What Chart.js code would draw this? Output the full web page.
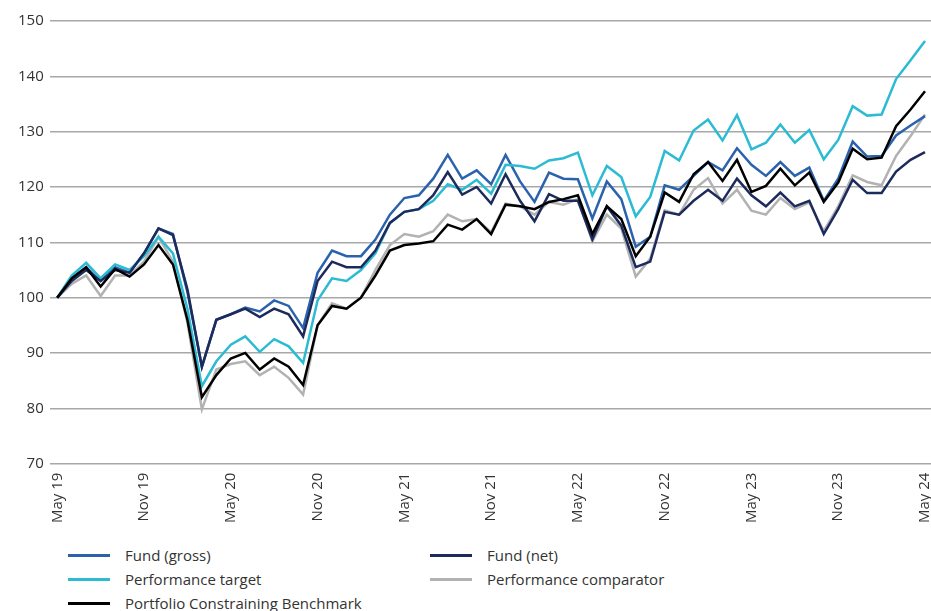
<!DOCTYPE html>
<html>
<head>
<meta charset="utf-8">
<script src="https://cdn.jsdelivr.net/npm/chart.js@4.4.1/dist/chart.umd.min.js"></script>
<style>
  html, body { margin: 0; padding: 0; background: #fff; }
  #wrap { position: relative; width: 931px; height: 611px; overflow: hidden; font-family: 'Open Sans', sans-serif; color: #333; }
  #box { position: absolute; left: 0; top: 0; width: 952px; height: 545px; }
  .item { position: absolute; font-size: 15px; line-height: 20px; white-space: nowrap; }
  .item i { position: absolute; left: -57px; top: 9px; width: 42px; height: 3px; }
</style>
</head>
<body>
<div id="wrap">
  <div id="box"><canvas id="perfChart"></canvas></div>
  <div id="legend"></div>
</div>
<script>
// monthly, May 2019 - May 2024 (rebased to 100)
const months = [
  'May 19','Jun 19','Jul 19','Aug 19','Sep 19','Oct 19','Nov 19','Dec 19',
  'Jan 20','Feb 20','Mar 20','Apr 20','May 20','Jun 20','Jul 20','Aug 20','Sep 20','Oct 20','Nov 20','Dec 20',
  'Jan 21','Feb 21','Mar 21','Apr 21','May 21','Jun 21','Jul 21','Aug 21','Sep 21','Oct 21','Nov 21','Dec 21',
  'Jan 22','Feb 22','Mar 22','Apr 22','May 22','Jun 22','Jul 22','Aug 22','Sep 22','Oct 22','Nov 22','Dec 22',
  'Jan 23','Feb 23','Mar 23','Apr 23','May 23','Jun 23','Jul 23','Aug 23','Sep 23','Oct 23','Nov 23','Dec 23',
  'Jan 24','Feb 24','Mar 24','Apr 24','May 24'
];
const tickLabels = ['May 19','Nov 19','May 20','Nov 20','May 21','Nov 21','May 22','Nov 22','May 23','Nov 23','May 24'];
const yTicks = [70, 80, 90, 100, 110, 120, 130, 140, 150];

const fundGross = [
  100, 103.5, 105.5, 103, 105.5, 104.5, 108, 112.5, 111.5, 101, 87.5, 96, 97, 98.2, 97.5, 99.5, 98.5, 94.5,
  104.5, 108.5, 107.5, 107.5, 110.5, 115, 118, 118.5, 121.5, 125.8, 121.5, 123, 120.5, 125.8, 121, 117.3,
  122.6, 121.5, 121.4, 114.3, 121, 117.8, 109.2, 111, 120.3, 119.5, 122, 124.5, 123, 127, 124, 122, 124.5,
  122, 123.5, 117.5, 121.5, 128.2, 125.5, 125.6, 129.3, 131.1, 132.8
];
const fundNet = [
  100, 103, 105, 103, 105, 104.5, 108, 112.5, 111.3, 101.5, 87.5, 96, 97, 98, 96.5, 98, 97, 93,
  103, 106.5, 105.5, 105.5, 108.5, 113.5, 115.5, 116, 118.5, 122.7, 118.6, 120, 117, 122.3, 117.5, 113.8,
  118.7, 117.5, 117.5, 110.5, 116.5, 113, 105.5, 106.5, 115.5, 115, 117.5, 119.5, 117.5, 121.5, 118.5,
  116.5, 119, 116.5, 117.5, 111.5, 116, 121.3, 118.9, 118.9, 122.8, 124.9, 126.3
];
const perfTarget = [
  100, 104, 106.3, 103.5, 106, 105, 107.5, 111, 108, 98, 84, 88.5, 91.5, 93, 90.2, 92.5, 91.2, 88.2,
  99.5, 103.5, 103, 105, 108, 113.5, 115.5, 116, 117.5, 120.5, 119.5, 121.3, 118.8, 124, 123.8, 123.3,
  124.8, 125.2, 126.2, 118.5, 123.8, 121.8, 114.7, 118.2, 126.5, 124.8, 130.2, 132.2, 128.4, 133, 126.8,
  128, 131.3, 128, 130.3, 125, 128.5, 134.6, 132.9, 133.1, 139.5, 142.9, 146.4
];
const perfComparator = [
  100, 102.5, 104, 100.3, 104, 104, 106.5, 111, 106.5, 95.5, 79.8, 87, 88, 88.5, 86, 87.5, 85.5, 82.5,
  95, 99, 98, 100, 105, 109.5, 111.5, 111, 112, 115, 113.8, 114.2, 111.8, 117, 116.5, 115, 117.3, 116.8,
  117.8, 110.2, 115, 112.5, 103.8, 107, 115.8, 115, 119.5, 121.6, 117, 119.5, 115.7, 115, 118, 116, 117.2,
  112, 116.5, 122.1, 120.9, 120.3, 125.6, 129.2, 133.1
];
const constrainingBm = [
  100, 103.5, 105.5, 102, 105.2, 103.8, 106, 109.5, 106, 96, 82, 86, 89, 90, 87, 89, 87.5, 84.2,
  95, 98.5, 98, 100, 104, 108.5, 109.5, 109.8, 110.2, 113.2, 112.3, 114.2, 111.5, 116.8, 116.5, 116,
  117.3, 117.8, 118.5, 111.5, 116.5, 114.2, 107.5, 111, 119, 117.3, 122.3, 124.5, 121.1, 124.9, 119.1,
  120.2, 123.3, 120.3, 122.6, 117.3, 120.8, 126.9, 125, 125.3, 131, 134, 137.3
];

const series = [
  { label: 'Fund (gross)', data: fundGross, color: '#2a62ad', order: 4 },
  { label: 'Fund (net)', data: fundNet, color: '#1d2a5c', order: 2 },
  { label: 'Performance target', data: perfTarget, color: '#2bbbd3', order: 3 },
  { label: 'Performance comparator', data: perfComparator, color: '#b2b2b2', order: 5 },
  { label: 'Portfolio Constraining Benchmark', data: constrainingBm, color: '#000000', order: 1 }
];

const ctx = document.getElementById('perfChart').getContext('2d');
new Chart(ctx, {
  type: 'line',
  data: {
    datasets: series.map(s => ({
      label: s.label,
      data: s.data.map((v, i) => ({ x: i, y: v })),
      borderColor: s.color,
      backgroundColor: s.color,
      borderWidth: 2.5,
      pointRadius: 0,
      tension: 0,
      order: s.order
    }))
  },
  options: {
    responsive: true,
    maintainAspectRatio: false,
    animation: false,
    layout: { padding: { left: 12, right: 0, top: 21, bottom: 13 } },
    plugins: { legend: { display: false }, tooltip: { enabled: false } },
    scales: {
      x: {
        type: 'linear',
        min: -0.52,
        max: 60.62,
        afterBuildTicks: axis => {
          axis.ticks = tickLabels.map(t => ({ value: months.indexOf(t) }));
        },
        grid: { display: false, drawTicks: false },
        border: { display: false },
        ticks: {
          autoSkip: false,
          minRotation: 90,
          maxRotation: 90,
          padding: 9,
          color: '#333',
          font: { family: 'Open Sans', size: 15 },
          callback: v => months[v]
        }
      },
      y: {
        min: 70,
        max: 150,
        afterBuildTicks: axis => {
          axis.ticks = yTicks.map(v => ({ value: v }));
        },
        grid: { color: '#a8a8a8', lineWidth: 1.5, drawTicks: false },
        border: { display: false },
        ticks: {
          padding: 6,
          color: '#333',
          font: { family: 'Open Sans', size: 15 }
        }
      }
    }
  }
});

// two-column legend under the chart
const legendPos = [
  { left: 125, top: 545 }, { left: 487, top: 545 },
  { left: 125, top: 569 }, { left: 487, top: 569 },
  { left: 125, top: 593 }
];
const legendEl = document.getElementById('legend');
series.forEach((s, i) => {
  const d = document.createElement('div');
  d.className = 'item';
  d.style.left = legendPos[i].left + 'px';
  d.style.top = legendPos[i].top + 'px';
  d.innerHTML = '<i style="background:' + s.color + '"></i>' + s.label;
  legendEl.appendChild(d);
});
</script>
</body>
</html>
